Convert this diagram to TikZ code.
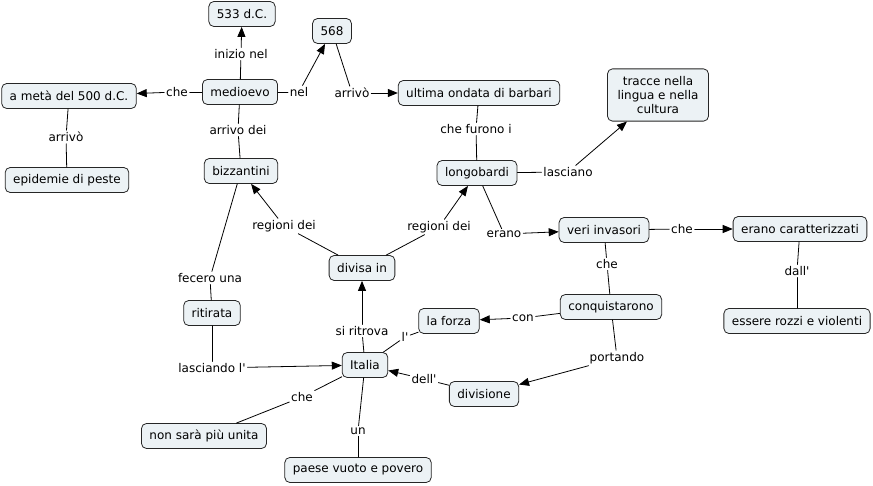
\documentclass[tikz,border=0pt]{standalone}
\usepackage{fontspec}
\setmainfont{DejaVu Sans}
\usetikzlibrary{arrows.meta}
\definecolor{conceptfill}{RGB}{236,242,245}
\begin{document}
\begin{tikzpicture}[
		x = 1pt,
		y = -1pt,
		line join = round,
		line cap = round,
		line width = .8pt,
		> = {Triangle[length=10pt,width=8pt]},
		concept/.style = {draw=black!85, fill=conceptfill, rounded corners=5pt,
			inner xsep=8pt, inner ysep=4pt, minimum height=25pt,
			font=\fontsize{12}{14}\selectfont},
		link/.style = {fill=white, inner sep=1.5pt, font=\fontsize{12}{14}\selectfont},
		]
\useasboundingbox (0,0) rectangle (873,486);
% concetti
\node[concept] (anno533)	at (242,14)	{533 d.C.};
\node[concept] (anno568)	at (332,31)	{568};
\node[concept] (meta)		at (69,96)	{a metà del 500 d.C.};
\node[concept] (medioevo)	at (240,92)	{medioevo};
\node[concept] (epidemie)	at (67,180)	{epidemie di peste};
\node[concept] (bizzantini)	at (241,171)	{bizzantini};
\node[concept] (ondata)		at (479,93)	{ultima ondata di barbari};
\node[concept, align=center, inner ysep=7.5pt, minimum width=101pt] (tracce) at (658,95) {tracce nella\\lingua e nella\\cultura};
\node[concept] (longobardi)	at (477,173)	{longobardi};
\node[concept] (invasori)	at (604,230)	{veri invasori};
\node[concept] (caratt)		at (800,229)	{erano caratterizzati};
\node[concept] (divisa)		at (362,268)	{divisa in};
\node[concept] (ritirata)	at (212,313)	{ritirata};
\node[concept] (forza)		at (449,321)	{la forza};
\node[concept] (conquist)	at (611,307)	{conquistarono};
\node[concept] (rozzi)		at (797,321)	{essere rozzi e violenti};
\node[concept] (italia)		at (365,365)	{Italia};
\node[concept] (divisione)	at (484,394)	{divisione};
\node[concept] (unita)		at (204,436)	{non sarà più unita};
\node[concept] (paese)		at (358,470)	{paese vuoto e povero};
% parole legame
\node[link] (l-inizio)		at (241,54)	{inizio nel};
\node[link] (l-nel)		at (299,92)	{nel};
\node[link] (l-arrivo2)		at (352,93)	{arrivò};
\node[link] (l-che1)		at (177,92)	{che};
\node[link] (l-arrivo1)		at (66,137)	{arrivò};
\node[link] (l-arrivodei)	at (238,130)	{arrivo dei};
\node[link] (l-furono)		at (476,129)	{che furono i};
\node[link] (l-lasciano)	at (568,172)	{lasciano};
\node[link] (l-erano)		at (504,234)	{erano};
\node[link] (l-che2)		at (682,229)	{che};
\node[link] (l-dall)		at (797,271)	{dall\textquotesingle};
\node[link] (l-che3)		at (607,264)	{che};
\node[link] (l-con)		at (523,318)	{con};
\node[link] (l-portando)	at (617,358)	{portando};
\node[link] (l-regioni1)	at (284,226)	{regioni dei};
\node[link] (l-regioni2)	at (439,227)	{regioni dei};
\node[link] (l-fecero)		at (210,278)	{fecero una};
\node[link] (l-lasciando)	at (212,368)	{lasciando l\textquotesingle};
\node[link] (l-ritrova)		at (362,331)	{si ritrova};
\node[link] (l-lapos)		at (405,337)	{l\textquotesingle};
\node[link] (l-dell)		at (424,379)	{dell\textquotesingle};
\node[link] (l-che4)		at (302,397)	{che};
\node[link] (l-un)		at (358,431)	{un};
% collegamenti
\draw		(medioevo) -- (l-inizio);
\draw[->]	(l-inizio) -- (anno533);
\draw		(medioevo) -- (l-nel);
\draw[->]	(l-nel) -- (anno568);
\draw		(anno568) -- (l-arrivo2);
\draw[->]	(l-arrivo2) -- (ondata);
\draw		(medioevo) -- (l-che1);
\draw[->]	(l-che1) -- (meta);
\draw		(meta) -- (l-arrivo1);
\draw		(l-arrivo1) -- (epidemie);
\draw		(medioevo) -- (l-arrivodei);
\draw		(l-arrivodei) -- (bizzantini);
\draw		(ondata) -- (l-furono);
\draw		(l-furono) -- (longobardi);
\draw		(longobardi) -- (l-lasciano);
\draw[->]	(l-lasciano) -- (tracce);
\draw		(longobardi) -- (l-erano);
\draw[->]	(l-erano) -- (invasori);
\draw		(invasori) -- (l-che2);
\draw[->]	(l-che2) -- (caratt);
\draw		(caratt) -- (l-dall);
\draw		(l-dall) -- (rozzi);
\draw		(invasori) -- (l-che3);
\draw		(l-che3) -- (conquist);
\draw		(conquist) -- (l-con);
\draw[->]	(l-con) -- (forza);
\draw		(conquist) -- (l-portando);
\draw[->]	(l-portando) -- (divisione);
\draw		(divisa) -- (l-regioni1);
\draw[->]	(l-regioni1) -- (bizzantini);
\draw		(divisa) -- (l-regioni2);
\draw[->]	(l-regioni2) -- (longobardi);
\draw		(bizzantini) -- (l-fecero);
\draw		(l-fecero) -- (ritirata);
\draw		(ritirata) -- (l-lasciando);
\draw[->]	(l-lasciando) -- (italia);
\draw		(italia) -- (l-ritrova);
\draw[->]	(l-ritrova) -- (divisa);
\draw		(italia) -- (l-lapos);
\draw		(l-lapos) -- (forza);
\draw		(divisione) -- (l-dell);
\draw[->]	(l-dell) -- (italia);
\draw		(italia) -- (l-che4);
\draw		(l-che4) -- (unita);
\draw		(italia) -- (l-un);
\draw		(l-un) -- (paese);
\end{tikzpicture}
\end{document}
